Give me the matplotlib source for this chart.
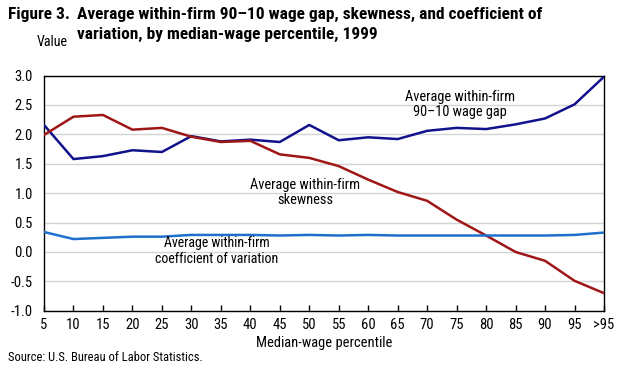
import matplotlib
matplotlib.use("Agg")
import matplotlib.pyplot as plt
from matplotlib import font_manager

# ---- font choice: prefer a condensed sans (reference uses a condensed face)
FAMILY = "Liberation Sans"
STRETCH = "normal"
_names = {f.name for f in font_manager.fontManager.ttflist}
for n in ["Liberation Sans Narrow", "Roboto Condensed", "Open Sans Condensed",
          "Noto Sans Condensed", "DejaVu Sans Condensed", "Noto Sans SemiCondensed",
          "Open Sans SemiCondensed"]:
    if n in _names:
        FAMILY = n
        break
else:
    for f in font_manager.fontManager.ttflist:
        if f.stretch in ("condensed", "semi-condensed") and f.name in (
                "Noto Sans", "Open Sans", "Roboto", "DejaVu Sans", "Liberation Sans"):
            FAMILY, STRETCH = f.name, f.stretch
            break
plt.rcParams['font.family'] = [FAMILY, 'DejaVu Sans']
plt.rcParams['font.stretch'] = STRETCH

categories = ["5", "10", "15", "20", "25", "30", "35", "40", "45", "50",
              "55", "60", "65", "70", "75", "80", "85", "90", "95", ">95"]
wage_gap = [2.16, 1.58, 1.63, 1.73, 1.70, 1.97, 1.88, 1.91, 1.87, 2.16,
            1.90, 1.95, 1.92, 2.06, 2.11, 2.09, 2.17, 2.27, 2.51, 2.98]
skewness = [1.99, 2.30, 2.33, 2.08, 2.11, 1.96, 1.87, 1.89, 1.66, 1.60,
            1.46, 1.23, 1.02, 0.87, 0.55, 0.28, 0.00, -0.15, -0.49, -0.70]
coef_var = [0.34, 0.22, 0.24, 0.26, 0.26, 0.29, 0.29, 0.29, 0.28, 0.29,
            0.28, 0.29, 0.28, 0.28, 0.28, 0.28, 0.28, 0.28, 0.29, 0.33]
yticks = [3.0, 2.5, 2.0, 1.5, 1.0, 0.5, 0.0, -0.5, -1.0]

fig = plt.figure(figsize=(6.23, 3.74), dpi=100)
ax = fig.add_axes([0.0706, 0.169, 0.8989, 0.629])
renderer = fig.canvas.get_renderer()


def fit(t, width_px, maxsize=16):
    """Scale a text's font size so its rendered width matches width_px."""
    for _ in range(3):
        w = t.get_window_extent(renderer).width
        if w <= 0:
            break
        t.set_fontsize(min(maxsize, t.get_fontsize() * width_px / w))
    return t


x = list(range(len(categories)))
ax.plot(x, wage_gap, color="#12128c", lw=1.8, zorder=3)
ax.plot(x, skewness, color="#9e1616", lw=1.8, zorder=3)
ax.plot(x, coef_var, color="#1f6fcc", lw=1.8, zorder=3)

ax.set_xlim(0, len(categories) - 1)
ax.set_ylim(-1.0, 3.0)
ax.set_yticks(yticks)
ax.set_yticklabels([f"{v:.1f}" for v in yticks], fontsize=10.5)
ax.tick_params(axis='y', length=0, pad=8)
ax.set_xticks(x)
ax.set_xticklabels(categories, fontsize=10.5)
ax.tick_params(axis='x', direction='in', length=4, width=1, pad=5)
ax.grid(axis='y', color="#d4d4d4", lw=1)
ax.set_axisbelow(True)
for s in ax.spines.values():
    s.set_color("black")
    s.set_linewidth(1)

ax.set_xlabel("Median-wage percentile", fontsize=10.5, labelpad=3)
fit(ax.xaxis.label, 135)

a1 = ax.text(14.1, 2.51, "Average within-firm\n90–10 wage gap", ha="center", va="center",
             fontsize=10.5, linespacing=1.15)
fit(a1, 110)
a2 = ax.text(8.86, 1.01, "Average within-firm\nskewness", ha="center", va="center",
             fontsize=10.5, linespacing=1.15)
fit(a2, 110)
a3 = ax.text(5.87, 0.02, "Average within-firm\ncoefficient of variation", ha="center",
             va="center", fontsize=10.5, linespacing=1.15)
fit(a3, 124)

t1 = fig.text(0.1236, 0.962, "Average within-firm 90–10 wage gap, skewness, and coefficient of",
              fontsize=13, fontweight="bold", va="center", ha="left")
fit(t1, 466)
t0 = fig.text(0.013, 0.962, "Figure 3.", fontsize=t1.get_fontsize(), fontweight="bold",
              va="center", ha="left")
t2 = fig.text(0.1236, 0.909, "variation, by median-wage percentile, 1999",
              fontsize=t1.get_fontsize(), fontweight="bold", va="center", ha="left")
tv = fig.text(0.059, 0.888, "Value", fontsize=10.5, va="center", ha="left")
fit(tv, 31)
ts = fig.text(0.013, 0.045, "Source: U.S. Bureau of Labor Statistics.", fontsize=10,
              va="center", ha="left")
fit(ts, 196)

fig.savefig("out.png", dpi=100)
